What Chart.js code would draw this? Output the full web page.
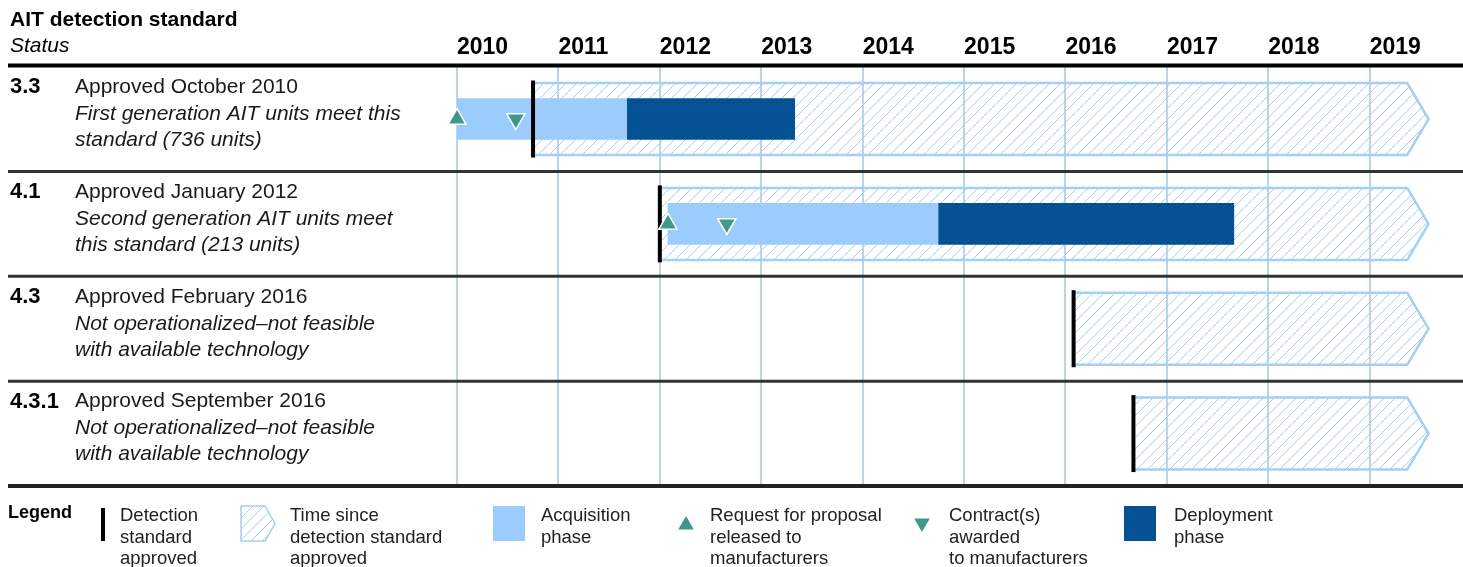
<!DOCTYPE html>
<html>
<head>
<meta charset="utf-8">
<script src="https://cdn.jsdelivr.net/npm/chart.js@4"></script>
<style>
  body { margin: 0; background: #fff; }
  #wrap { width: 1463px; height: 567px; }
</style>
</head>
<body>
<div id="wrap"><canvas id="timeline"></canvas></div>
<script>
// data (years as decimals)
const standards = ["3.3", "4.1", "4.3", "4.3.1"];
const approvedText = ["Approved October 2010", "Approved January 2012", "Approved February 2016", "Approved September 2016"];
const notes = [
  ["First generation AIT units meet this", "standard (736 units)"],
  ["Second generation AIT units meet", "this standard (213 units)"],
  ["Not operationalized\u2013not feasible", "with available technology"],
  ["Not operationalized\u2013not feasible", "with available technology"]
];
const approvedAt = [2010.75, 2012.0, 2016.08, 2016.67];
const sinceEnd = [2019.37, 2019.37, 2019.37, 2019.37];
const arrowTip = [2019.58, 2019.58, 2019.58, 2019.58];
const acquisitionStart = [2010.0, 2012.08, null, null];
const deploymentStart = [2011.68, 2014.75, null, null];
const deploymentEnd = [2013.33, 2017.66, null, null];
const rfpReleased = [2010.0, 2012.08, null, null];
const contractAwarded = [2010.58, 2012.66, null, null];
const years = [2010, 2011, 2012, 2013, 2014, 2015, 2016, 2017, 2018, 2019];

const legendLabels = [
  ["Detection", "standard", "approved"],
  ["Time since", "detection standard", "approved"],
  ["Acquisition", "phase"],
  ["Request for proposal", "released to", "manufacturers"],
  ["Contract(s)", "awarded", "to manufacturers"],
  ["Deployment", "phase"]
];

const LIGHT = "#9ccbfd";
const DARK = "#045193";
const TEAL = "#3f988c";
const HATCH = "#a3cff8";
const GRID = "#bfd3e6";
const FONT = "'Liberation Sans', Arial, sans-serif";

function hatch() {
  const c = document.createElement("canvas");
  c.width = c.height = 11;
  const g = c.getContext("2d");
  g.strokeStyle = HATCH;
  g.lineWidth = 1;
  g.beginPath();
  g.moveTo(0, 11); g.lineTo(11, 0);
  g.moveTo(-1, 1); g.lineTo(1, -1);
  g.moveTo(10, 12); g.lineTo(12, 10);
  g.stroke();
  return g.createPattern(c, "repeat");
}
const hatchFill = hatch();

function span(a, b) {
  return standards.map((s, i) => (a[i] == null ? null : [a[i], b[i]]));
}
function points(vals) {
  return standards.map((s, i) => ({ x: vals[i], y: s })).filter(p => p.x != null);
}

// hatched "time since" bars drawn as arrows
const arrowBars = {
  id: "arrowBars",
  beforeDatasetDraw(chart, args) {
    const ds = chart.data.datasets[args.index];
    if (!ds.arrowTips) return;
    const ctx = chart.ctx;
    const xs = chart.scales.x;
    ctx.save();
    args.meta.data.forEach((bar, i) => {
      const p = bar.getProps(["x", "y", "base", "height"], true);
      const tip = xs.getPixelForValue(ds.arrowTips[i]);
      const top = p.y - p.height / 2, bot = p.y + p.height / 2;
      ctx.beginPath();
      ctx.moveTo(p.base, top);
      ctx.lineTo(p.x, top);
      ctx.lineTo(tip, p.y);
      ctx.lineTo(p.x, bot);
      ctx.lineTo(p.base, bot);
      ctx.closePath();
      ctx.fillStyle = ds.backgroundColor;
      ctx.fill();
      ctx.lineWidth = ds.borderWidth;
      ctx.strokeStyle = ds.borderColor;
      ctx.stroke();
    });
    ctx.restore();
    return false;
  }
};

// header, row texts, rules and legend
const frame = {
  id: "frame",
  afterDraw(chart) {
    const ctx = chart.ctx;
    const ys = chart.scales.y;
    const area = chart.chartArea;
    const W = chart.width;
    ctx.save();
    ctx.textBaseline = "middle";
    ctx.textAlign = "left";
    ctx.fillStyle = "#000";
    ctx.font = "bold 21px " + FONT;
    ctx.fillText("AIT detection standard", 10, 20);
    ctx.font = "italic 21px " + FONT;
    ctx.fillText("Status", 10, 46);

    standards.forEach((s, i) => {
      const cy = ys.getPixelForValue(i);
      ctx.fillStyle = "#000";
      ctx.font = "bold 22px " + FONT;
      ctx.fillText(s, 10, cy - 32);
      ctx.fillStyle = "#1a1a1a";
      ctx.font = "21px " + FONT;
      ctx.fillText(approvedText[i], 75, cy - 32);
      ctx.font = "italic 21px " + FONT;
      ctx.fillText(notes[i][0], 75, cy - 5);
      ctx.fillText(notes[i][1], 75, cy + 21);
    });

    // rules
    const rule = (y, w, c) => {
      ctx.beginPath();
      ctx.moveTo(8, y);
      ctx.lineTo(W, y);
      ctx.lineWidth = w;
      ctx.strokeStyle = c;
      ctx.stroke();
    };
    rule(area.top - 1, 4, "#000");
    for (let i = 1; i < standards.length; i++) {
      rule((ys.getPixelForValue(i - 1) + ys.getPixelForValue(i)) / 2, 3, "#333");
    }
    rule(area.bottom, 4, "#222");

    // legend
    const ly = 506, lh = 35;
    ctx.fillStyle = "#000";
    ctx.font = "bold 18px " + FONT;
    ctx.fillText("Legend", 8, 513);

    ctx.fillStyle = "#000";
    ctx.fillRect(101, ly + 2, 4, lh - 2);

    ctx.beginPath();
    ctx.moveTo(241, ly); ctx.lineTo(265, ly); ctx.lineTo(275, ly + lh / 2);
    ctx.lineTo(265, ly + lh); ctx.lineTo(241, ly + lh); ctx.closePath();
    ctx.fillStyle = hatchFill; ctx.fill();
    ctx.lineWidth = 1.5; ctx.strokeStyle = HATCH; ctx.stroke();

    ctx.fillStyle = LIGHT;
    ctx.fillRect(493, ly, 32, lh);
    ctx.fillStyle = DARK;
    ctx.fillRect(1124, ly, 32, lh);

    const tri = (x, y, up) => {
      const r = 9;
      const d = up ? 1 : -1;
      ctx.beginPath();
      ctx.moveTo(x, y - d * r);
      ctx.lineTo(x + r * 0.866, y + d * r / 2);
      ctx.lineTo(x - r * 0.866, y + d * r / 2);
      ctx.closePath();
      ctx.fillStyle = TEAL;
      ctx.fill();
    };
    tri(686, 525, true);
    tri(922, 523, false);

    const textX = [120, 290, 541, 710, 949, 1174];
    ctx.fillStyle = "#222";
    ctx.font = "18.5px " + FONT;
    legendLabels.forEach((lines, k) => {
      lines.forEach((t, j) => ctx.fillText(t, textX[k], 516 + j * 21.5));
    });
    ctx.restore();
  }
};

new Chart(document.getElementById("timeline"), {
  type: "bar",
  data: {
    labels: standards,
    datasets: [
      {
        label: "Time since detection standard approved",
        data: span(approvedAt, sinceEnd),
        arrowTips: arrowTip,
        backgroundColor: hatchFill,
        borderColor: HATCH,
        borderWidth: 2.5,
        barThickness: 72,
        grouped: false,
        order: 5
      },
      {
        label: "Acquisition phase",
        data: span(acquisitionStart, deploymentStart),
        backgroundColor: LIGHT,
        barThickness: 41,
        grouped: false,
        order: 4
      },
      {
        label: "Deployment phase",
        data: span(deploymentStart, deploymentEnd),
        backgroundColor: DARK,
        barThickness: 41,
        grouped: false,
        order: 3
      },
      {
        type: "scatter",
        label: "Detection standard approved",
        data: points(approvedAt),
        pointStyle: "line",
        rotation: 90,
        pointRadius: 38.5,
        pointHoverRadius: 38.5,
        borderColor: "#000",
        pointBorderWidth: 4,
        clip: false,
        order: 2
      },
      {
        type: "scatter",
        label: "Request for proposal released to manufacturers",
        data: points(rfpReleased),
        pointStyle: "triangle",
        pointRadius: 10.5,
        pointHoverRadius: 10.5,
        backgroundColor: TEAL,
        borderColor: "#fff",
        pointBorderWidth: 1.5,
        clip: false,
        order: 1
      },
      {
        type: "scatter",
        label: "Contract(s) awarded to manufacturers",
        data: points(contractAwarded),
        pointStyle: "triangle",
        rotation: 180,
        pointRadius: 10.5,
        pointHoverRadius: 10.5,
        backgroundColor: TEAL,
        borderColor: "#fff",
        pointBorderWidth: 1.5,
        clip: false,
        order: 1
      }
    ]
  },
  options: {
    indexAxis: "y",
    responsive: true,
    maintainAspectRatio: false,
    animation: false,
    events: [],
    layout: { autoPadding: false, padding: { left: 457, right: 2, top: 29, bottom: 81 } },
    plugins: {
      legend: { display: false },
      tooltip: { enabled: false }
    },
    scales: {
      x: {
        type: "linear",
        position: "top",
        min: years[0],
        max: 2019.9,
        afterBuildTicks: axis => {
          axis.ticks = axis.ticks.filter(t => years.includes(t.value));
        },
        afterFit: axis => {
          // labels sit right of their gridline, no extra side room needed
          axis.paddingLeft = 0;
          axis.paddingRight = 0;
        },
        ticks: {
          stepSize: 1,
          includeBounds: false,
          align: "start",
          padding: 5,
          color: "#000",
          font: { family: FONT, size: 23, weight: "bold" },
          callback: v => String(v)
        },
        grid: { color: GRID, lineWidth: 2, drawTicks: false },
        border: { display: false }
      },
      y: {
        type: "category",
        labels: standards,
        display: false,
        offset: true,
        grid: { display: false }
      }
    }
  },
  plugins: [arrowBars, frame]
});
</script>
</body>
</html>
